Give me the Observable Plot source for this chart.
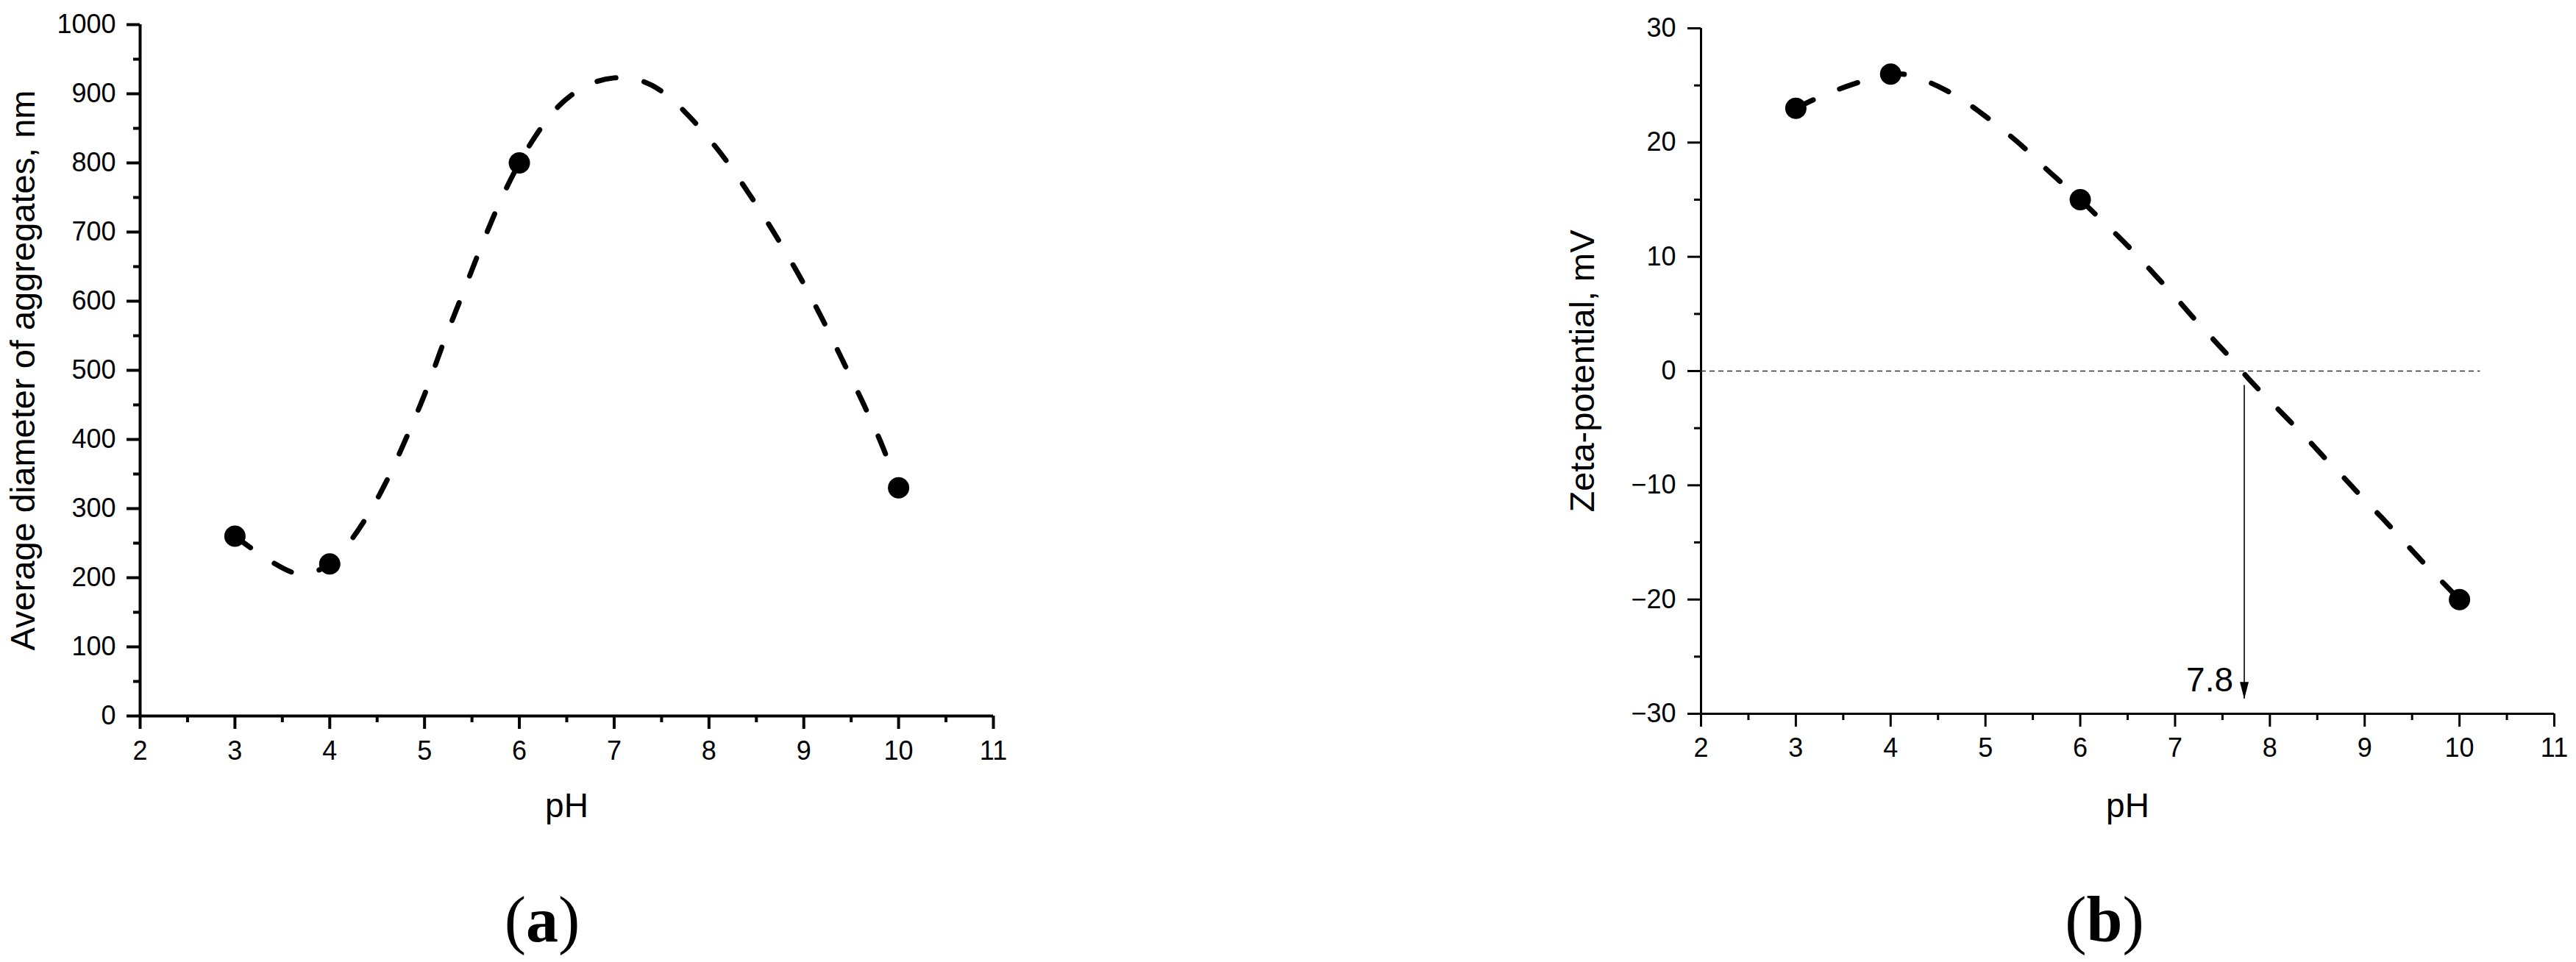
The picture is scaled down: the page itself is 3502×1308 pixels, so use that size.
<!DOCTYPE html>
<html>
<head>
<meta charset="utf-8">
<script src="https://cdn.jsdelivr.net/npm/d3@7"></script>
<script src="https://cdn.jsdelivr.net/npm/@observablehq/plot@0.6"></script>
<style>
  html, body { margin: 0; padding: 0; background: #fff; }
  #page { position: relative; width: 3502px; height: 1308px; overflow: hidden; background: #fff; }
  .panel { position: absolute; top: 0; }
  #overlay { position: absolute; left: 0; top: 0; pointer-events: none; }
</style>
</head>
<body>
<div id="page">
  <div class="panel" id="panelA" style="left:0px"></div>
  <div class="panel" id="panelB" style="left:1750px"></div>
</div>
<script>
// ---------- data ----------
// Panel (a): average diameter of aggregates vs pH
const phA = [3, 4, 6, 10];
const diamA = [260, 220, 800, 330];
// smooth fitted curve
const curvePhA  = [3.0, 3.2, 3.4, 3.6, 3.75, 3.9, 4.0, 4.2, 4.4, 4.6, 4.8, 5.0, 5.2, 5.4, 5.6, 5.8, 6.0, 6.2, 6.4, 6.6, 6.8, 7.0, 7.2, 7.4, 7.6, 7.8, 8.0, 8.2, 8.4, 8.6, 8.8, 9.0, 9.2, 9.4, 9.6, 9.8, 10.0];
const curveValA = [260, 240, 222, 208, 205, 212, 220, 250, 290, 340, 400, 465, 540, 610, 680, 745, 800, 845, 880, 903, 917, 923, 922, 912, 893, 866, 835, 800, 760, 718, 673, 625, 573, 517, 460, 400, 330];

// Panel (b): zeta-potential vs pH
const phB = [3, 4, 6, 10];
const zetaB = [23, 26, 15, -20];
const curvePhB  = [3.0, 3.2, 3.4, 3.6, 3.8, 4.0, 4.2, 4.4, 4.6, 4.8, 5.0, 5.2, 5.4, 5.6, 5.8, 6.0, 6.2, 6.4, 6.6, 6.8, 7.0, 7.2, 7.4, 7.6, 7.8, 8.0, 8.2, 8.4, 8.6, 8.8, 9.0, 9.2, 9.4, 9.6, 9.8, 10.0];
const curveValB = [23.0, 23.8, 24.5, 25.1, 25.6, 26.0, 25.9, 25.3, 24.5, 23.5, 22.3, 21.0, 19.6, 18.0, 16.5, 15.0, 13.4, 11.8, 10.1, 8.3, 6.5, 4.6, 2.8, 1.0, -0.9, -2.6, -4.3, -6.0, -7.8, -9.5, -11.3, -13.0, -14.8, -16.6, -18.3, -20.0];

// isoelectric point annotation
const iepPH = 7.73;
const iepLabel = "7.8";
const arrowTop = -1.26;
const arrowTip = -28.7;
const zeroLineEnd = 10.22;

// axes
const xDomain = [2, 11];
const xTicks = [2, 3, 4, 5, 6, 7, 8, 9, 10, 11];
const xMinor = [2.5, 3.5, 4.5, 5.5, 6.5, 7.5, 8.5, 9.5, 10.5];
const yDomainA = [0, 1000];
const yTicksA = [0, 100, 200, 300, 400, 500, 600, 700, 800, 900, 1000];
const yMinorA = [50, 150, 250, 350, 450, 550, 650, 750, 850, 950];
const yDomainB = [-30, 30];
const yTicksB = [-30, -20, -10, 0, 10, 20, 30];
const yMinorB = [-25, -15, -5, 5, 15, 25];

const xTitle = "pH";
const yTitleA = "Average diameter of aggregates, nm";
const yTitleB = "Zeta-potential, mV";

// ---------- tables ----------
const pointsA = phA.map((p, i) => ({ph: p, v: diamA[i]}));
const lineA = curvePhA.map((p, i) => ({ph: p, v: curveValA[i]}));
const pointsB = phB.map((p, i) => ({ph: p, v: zetaB[i]}));
const lineB = curvePhB.map((p, i) => ({ph: p, v: curveValB[i]}));
const iep = [{ph: iepPH, top: arrowTop, tip: arrowTip, label: iepLabel}];

const sans = "'Liberation Sans', Arial, Helvetica, sans-serif";
const fmt = d => d < 0 ? "\u2212" + Math.abs(d) : String(d);

// narrow filled arrowhead, tip at origin pointing down
const arrowHead = {
  draw(ctx) {
    ctx.moveTo(0, 0);
    ctx.lineTo(-6, -23);
    ctx.lineTo(6, -23);
    ctx.closePath();
  }
};

function axes(yTicks, yMinor, sw, padX, padY) {
  return [
    Plot.axisY({ticks: yTicks, tickSize: 18, tickPadding: padY, fontSize: 36, strokeWidth: sw, label: null, tickFormat: fmt}),
    Plot.axisY({ticks: yMinor, tickSize: 9, strokeWidth: sw, label: null, tickFormat: () => ""}),
    Plot.axisX({ticks: xTicks, tickSize: 18, tickPadding: padX, fontSize: 36, strokeWidth: sw, label: null, tickFormat: fmt}),
    Plot.axisX({ticks: xMinor, tickSize: 9, strokeWidth: sw, label: null, tickFormat: () => ""}),
    Plot.ruleX([xDomain[0]], {strokeWidth: sw}),
  ];
}

const styleObj = {fontFamily: sans, fontSize: "36px", color: "black", background: "transparent"};

// ---------- panel (a) ----------
const chartA = Plot.plot({
  width: 1400, height: 1308,
  marginLeft: 190, marginRight: 50, marginTop: 33, marginBottom: 335,
  x: {domain: xDomain},
  y: {domain: yDomainA},
  style: styleObj,
  marks: [
    ...axes(yTicksA, yMinorA, 4, 16, 15),
    Plot.ruleY([yDomainA[0]], {strokeWidth: 4}),
    Plot.line(lineA, {x: "ph", y: "v", curve: "catmull-rom", stroke: "black", strokeWidth: 7, strokeDasharray: "26,39", strokeLinecap: "round"}),
    Plot.dot(pointsA, {x: "ph", y: "v", r: 14.5, fill: "black", stroke: "none"}),
    Plot.text([xTitle], {frameAnchor: "bottom", dy: 137, lineAnchor: "bottom", fontSize: 46, fill: "black"}),
    Plot.text([yTitleA], {frameAnchor: "left", dx: -144, rotate: -90, lineAnchor: "bottom", textAnchor: "middle", fontSize: 47, fill: "black"})
  ]
});
document.getElementById("panelA").appendChild(chartA);

// ---------- panel (b) ----------
const chartB = Plot.plot({
  width: 1752, height: 1308,
  marginLeft: 562, marginRight: 30, marginTop: 38, marginBottom: 338,
  x: {domain: xDomain},
  y: {domain: yDomainB},
  style: styleObj,
  marks: [
    ...axes(yTicksB, yMinorB, 3, 15, 16),
    Plot.ruleY([yDomainB[0]], {strokeWidth: 3}),
    Plot.ruleY([0], {x1: xDomain[0], x2: zeroLineEnd, stroke: "#333", strokeWidth: 1.5, strokeDasharray: "7,5"}),
    Plot.ruleX(iep, {x: "ph", y1: "top", y2: "tip", stroke: "black", strokeWidth: 1.6}),
    Plot.dot(iep, {x: "ph", y: "tip", symbol: arrowHead, r: 5, fill: "black", stroke: "none"}),
    Plot.text(iep, {x: "ph", y: "tip", text: "label", textAnchor: "end", lineAnchor: "bottom", dx: -15, dy: -10, fontSize: 46, fill: "black"}),
    Plot.line(lineB, {x: "ph", y: "v", curve: "catmull-rom", stroke: "black", strokeWidth: 7, strokeDasharray: "26,39", strokeLinecap: "round"}),
    Plot.dot(pointsB, {x: "ph", y: "v", r: 14.5, fill: "black", stroke: "none"}),
    Plot.text([xTitle], {frameAnchor: "bottom", dy: 140, lineAnchor: "bottom", fontSize: 46, fill: "black"}),
    Plot.text([yTitleB], {frameAnchor: "left", dx: -146, rotate: -90, lineAnchor: "bottom", textAnchor: "middle", fontSize: 47, fill: "black"})
  ]
});
document.getElementById("panelB").appendChild(chartB);

// ---------- panel labels (a), (b) ----------
const ns = "http://www.w3.org/2000/svg";
const ov = document.createElementNS(ns, "svg");
ov.setAttribute("id", "overlay");
ov.setAttribute("width", 3502);
ov.setAttribute("height", 1308);
const panelLabels = [{x: 737, letter: "a"}, {x: 2861, letter: "b"}];
for (const p of panelLabels) {
  const t = document.createElementNS(ns, "text");
  t.setAttribute("x", p.x);
  t.setAttribute("y", 1280);
  t.setAttribute("text-anchor", "middle");
  t.setAttribute("font-family", "'Liberation Serif', 'Times New Roman', serif");
  t.setAttribute("font-size", 88);
  t.setAttribute("fill", "black");
  t.appendChild(document.createTextNode("("));
  const b = document.createElementNS(ns, "tspan");
  b.setAttribute("font-weight", "bold");
  b.textContent = p.letter;
  t.appendChild(b);
  t.appendChild(document.createTextNode(")"));
  ov.appendChild(t);
}
document.getElementById("page").appendChild(ov);
</script>
</body>
</html>
